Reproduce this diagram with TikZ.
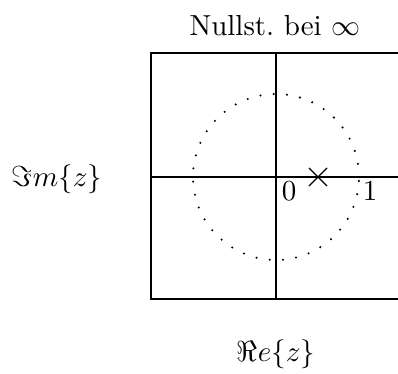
\documentclass[tikz,border=0pt]{standalone}
\usetikzlibrary{shapes.misc}
\begin{document}
\begin{tikzpicture}[x=0.345pt,y=-0.345pt,
  axis/.style={line width=0.38pt,black},
  lbl/.style={inner sep=0pt,font=\normalsize},
  pole/.style={cross out,draw,line width=0.38pt,minimum size=17*0.345pt,inner sep=0pt}]
\useasboundingbox (0,0) rectangle (398,374);
% frame (right side open / clipped)
\coordinate (tl) at (151,53);
\coordinate (bl) at (151,299);
\coordinate (tr) at (398,53);
\coordinate (br) at (398,299);
\coordinate (ml) at (151,177);
\coordinate (mr) at (398,177);
\coordinate (vt) at (276,53);
\coordinate (vb) at (276,299);
\draw[axis] (tr) -- (tl) -- (bl) -- (br);
\draw[axis] (ml) -- (mr);
\draw[axis] (vt) -- (vb);
% dotted unit circle
\foreach \k in {0,...,39}{
  \fill ({276+83*cos(\k*9.16)},{177-83*sin(\k*9.16)}) circle (1.15);
}
% pole
\node[pole] (p) at (318,177) {};
% labels
\node[lbl] (zero) at (289,191) {$0$};
\node[lbl] (one) at (370,191) {$1$};
\node[lbl] (title) at (275,26) {Nullst.\ bei $\infty$};
\node[lbl] (im) at (57,179) {$\Im m\{z\}$};
\node[lbl] (re) at (276,354) {$\Re e\{z\}$};
\end{tikzpicture}
\end{document}
